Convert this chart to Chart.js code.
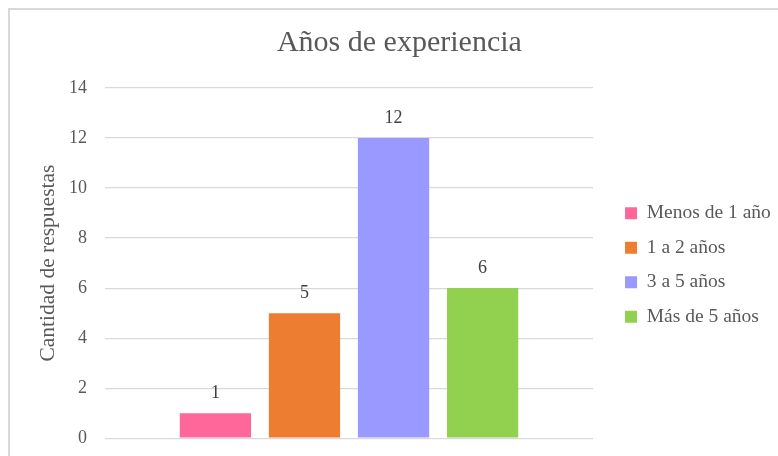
<!DOCTYPE html>
<html>
<head>
<meta charset="utf-8">
<script src="https://cdn.jsdelivr.net/npm/chart.js@4.4.1/dist/chart.umd.min.js"></script>
<style>
  html, body { margin: 0; padding: 0; background: #ffffff; overflow: hidden; width: 778px; height: 456px; }
  #frame { position: absolute; left: 8px; top: 8px; width: 900px; height: 600px; border: 2px solid #d9d9d9; box-sizing: border-box; }
  #c { position: absolute; left: 35px; top: 0px; }
</style>
</head>
<body>
<div id="frame"></div>
<canvas id="c" width="760" height="467"></canvas>
<script>
const chartTitle = 'Años de experiencia';
const yAxisTitle = 'Cantidad de respuestas';
const categories = [''];
const seriesNames = ['Menos de 1 año', '1 a 2 años', '3 a 5 años', 'Más de 5 años'];
const seriesValues = [1, 5, 12, 6];
const seriesColors = ['#FF6699', '#ED7D31', '#9999FF', '#92D050'];
const yTicks = [0, 2, 4, 6, 8, 10, 12, 14];

const FONT = "'Liberation Serif', 'Times New Roman', serif";

const datasets = seriesNames.map((name, i) => ({
  label: name,
  data: [seriesValues[i]],
  backgroundColor: seriesColors[i],
  borderWidth: 0
}));

const valueLabels = {
  id: 'valueLabels',
  afterDatasetsDraw(chart) {
    const ctx = chart.ctx;
    ctx.save();
    ctx.font = '18px ' + FONT;
    ctx.fillStyle = '#404040';
    ctx.textAlign = 'center';
    ctx.textBaseline = 'middle';
    chart.data.datasets.forEach((ds, i) => {
      const meta = chart.getDatasetMeta(i);
      meta.data.forEach((bar, j) => {
        ctx.fillText(String(ds.data[j]), bar.x, bar.y - 20);
      });
    });
    ctx.restore();
  }
};

const legendShift = {
  id: 'legendShift',
  afterLayout(chart) {
    const lg = chart.legend;
    if (lg) { lg.left += 17; lg.right += 17; lg.top += 2; lg.bottom += 2; }
  }
};

const chart = new Chart(document.getElementById('c'), {
  type: 'bar',
  data: { labels: categories, datasets: datasets },
  options: {
    responsive: false,
    animation: false,
    devicePixelRatio: 1,
    layout: { padding: { left: 0, top: 0, right: 31.2, bottom: 0 } },
    datasets: { bar: { categoryPercentage: 0.73, barPercentage: 0.8 } },
    plugins: {
      title: {
        display: true,
        text: chartTitle,
        color: '#595959',
        font: { family: FONT, size: 30, weight: 'normal', lineHeight: 1.2 },
        padding: { top: 25, bottom: 27 }
      },
      legend: {
        display: true,
        position: 'right',
        align: 'center',
        fullSize: false,
        labels: {
          color: '#595959',
          font: { family: FONT, size: 19.5 },
          boxWidth: 12,
          boxHeight: 12,
          padding: 15
        }
      },
      tooltip: { enabled: false }
    },
    scales: {
      x: { display: false, grid: { display: false } },
      y: {
        min: 0,
        max: 14,
        afterFit(scale) { scale.width = 70; },
        afterBuildTicks(scale) { scale.ticks = yTicks.map(v => ({ value: v })); },
        border: { display: false },
        grid: { color: '#d9d9d9', lineWidth: 1.2, drawTicks: false },
        ticks: {
          color: '#595959',
          font: { family: FONT, size: 18 },
          padding: 18
        },
        title: {
          display: true,
          text: yAxisTitle,
          color: '#595959',
          font: { family: FONT, size: 21.5, lineHeight: 1.2 },
          padding: { top: 0, bottom: 0 }
        }
      }
    }
  },
  plugins: [valueLabels, legendShift]
});
</script>
</body>
</html>
